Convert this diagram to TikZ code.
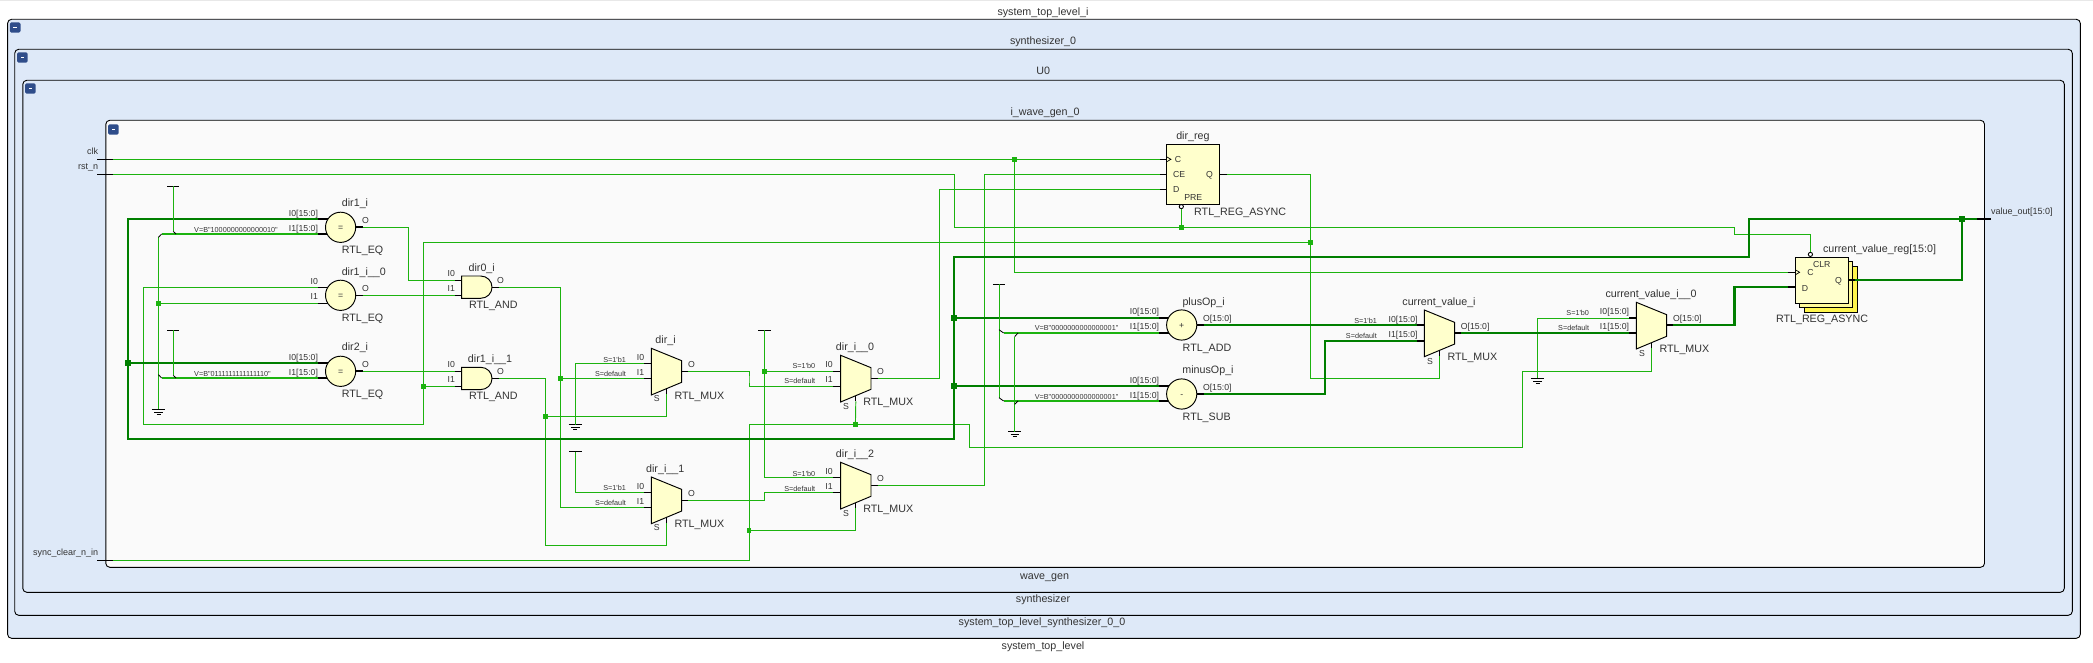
\documentclass[tikz,border=0pt]{standalone}
\usepackage{fontspec}
\setmainfont{Liberation Sans}
\newfontfamily\plainlib{Liberation Sans}
\definecolor{framefill}{HTML}{DEE9F8}
\definecolor{innerfill}{HTML}{FAFAFA}
\definecolor{thinwire}{HTML}{1CB30F}
\definecolor{buswire}{HTML}{007F00}
\definecolor{gatefill}{HTML}{FFFFCC}
\definecolor{iconblue}{HTML}{2F4D8A}
\tikzset{
  frameline/.style={draw=black,line width=0.9pt,rounded corners=4pt},
  txt/.style={inner sep=0pt,outer sep=0pt,text height=0.72em,text depth=0pt,text=black!80},
  big/.style={font=\plainlib\fontsize{10.7}{12}\selectfont},
  port/.style={font=\plainlib\fontsize{9}{10}\selectfont},
  pinl/.style={font=\plainlib\fontsize{8.7}{10}\selectfont},
  tiny/.style={font=\plainlib\fontsize{7.25}{9}\selectfont},
  wire/.style={draw=thinwire,line width=0.95pt,line join=miter},
  constwire/.style={draw=thinwire,line width=1.9pt},
  bus/.style={draw=buswire,line width=2.3pt,line join=miter},
  bitstub/.style={draw=black,line width=0.9pt},
  busstub/.style={draw=black,line width=2.3pt},
  gate/.style={draw=black,line width=0.95pt,fill=gatefill},
  chamfer/.style={draw=black,line width=0.8pt},
  jct/.style={rectangle,fill=thinwire,draw=none,minimum size=4.6pt,inner sep=0pt,outer sep=0pt},
  busjct/.style={rectangle,fill=buswire,draw=none,minimum size=5.8pt,inner sep=0pt,outer sep=0pt},
}
\newcommand{\lab}[6]{\node[txt,#5,anchor=#4] (#1) at (#2,#3) {#6};}
% compare/arith gate: id, cx, i0y, i1y, oy, symbol, stub style
\newcommand{\cmpg}[7]{%
  \coordinate (#1-i0) at (#2-22.6,#3);
  \coordinate (#1-i1) at (#2-22.6,#4);
  \coordinate (#1-o) at (#2+22,#5);
  \draw[#7] (#1-i0) -- (#2-11,#3);
  \draw[#7] (#1-i1) -- (#2-11,#4);
  \draw[#7] (#2+13,#5) -- (#1-o);
  \node[circle,gate,minimum size=30.2pt,inner sep=0pt,outer sep=0pt] (#1) at (#2,#5) {};
  \node[txt,pinl] (#1-sym) at (#2,#5) {#6};
}
% mux: id, left x, top y, i0y, i1y, oy, stub style
\newcommand{\muxg}[7]{%
  \coordinate (#1-i0) at (#2-7.3,#4);
  \coordinate (#1-i1) at (#2-7.3,#5);
  \coordinate (#1-o) at (#2+37.1,#6);
  \coordinate (#1-s) at (#2+15.2,#3+46);
  \draw[#7] (#1-i0) -- (#2,#4);
  \draw[#7] (#1-i1) -- (#2,#5);
  \draw[#7] (#2+30.4,#6) -- (#1-o);
  \draw[bitstub] (#2+15.2,#3+40.4) -- (#1-s);
  \draw[gate] (#2,#3) -- (#2+30.4,#3+12.4) -- (#2+30.4,#3+34) -- (#2,#3+46.7) -- cycle;
}
% and gate: id, left x, top y, i0y, i1y, oy
\newcommand{\andg}[6]{%
  \coordinate (#1-i0) at (#2-6.6,#4);
  \coordinate (#1-i1) at (#2-6.6,#5);
  \coordinate (#1-o) at (#2+37.1,#6);
  \draw[bitstub] (#1-i0) -- (#2,#4);
  \draw[bitstub] (#1-i1) -- (#2,#5);
  \draw[bitstub] (#2+30.4,#6) -- (#1-o);
  \draw[gate] (#2,#3) -- (#2+19,#3) .. controls (#2+25.5,#3) and (#2+30.4,#3+5) .. (#2+30.4,#3+11.15)
    .. controls (#2+30.4,#3+17.3) and (#2+25.5,#3+22.3) .. (#2+19,#3+22.3) -- (#2,#3+22.3) -- cycle;
}
\newcommand{\tiehi}[3]{%
  \coordinate (#1) at (#2,#3);
  \draw[bitstub] (#2-6.2,#3) -- (#2+6.2,#3);
}
\newcommand{\gndsym}[3]{%
  \coordinate (#1) at (#2,#3);
  \draw[bitstub] (#2-6.7,#3) -- (#2+6.7,#3);
  \draw[bitstub] (#2-4.2,#3+2.7) -- (#2+4.2,#3+2.7);
  \draw[bitstub] (#2-2,#3+5) -- (#2+2,#3+5);
}
\newcommand{\clockmark}[2]{\draw[bitstub,line width=0.7pt] (#1,#2-2.6) -- (#1+4.4,#2) -- (#1,#2+2.6);}
\newcommand{\iconbox}[2]{%
  \fill[iconblue,rounded corners=1.6pt] (#1,#2) rectangle (#1+10.7,#2+10.4);
  \fill[white] (#1+3.6,#2+4.4) rectangle (#1+7,#2+6);
}
\begin{document}
\begin{tikzpicture}[x=1pt,y=-1pt]
\useasboundingbox (0,0) rectangle (2093,663);
\fill[white] (0,0) rectangle (2093,663);
\fill[black!9] (0,0) rectangle (2093,1.3);
% nested frames
\draw[frameline,fill=framefill] (7.6,19.3) rectangle (2080.3,638.3);
\draw[frameline,fill=framefill] (14.7,49.3) rectangle (2072.3,615.3);
\draw[frameline,fill=framefill] (22.8,80.3) rectangle (2064.3,592.3);
\draw[frameline,fill=innerfill] (105.8,120.3) rectangle (1984.5,567.3);
\iconbox{9.8}{22.3}
\iconbox{17}{52.3}
\iconbox{25}{83.3}
\iconbox{108}{124.3}
\lab{t0}{1043}{11.5}{center}{big}{system\_top\_level\_i}
\lab{t1}{1043}{41.3}{center}{big}{synthesizer\_0}
\lab{t2}{1043.3}{71}{center}{big}{U0}
\lab{t3}{1045}{112.3}{center}{big}{i\_wave\_gen\_0}
\lab{b3}{1044.6}{575.7}{center}{big}{wave\_gen}
\lab{b2}{1043}{599.3}{center}{big}{synthesizer}
\lab{b1}{1042}{622.3}{center}{big}{system\_top\_level\_synthesizer\_0\_0}
\lab{b0}{1043}{645.7}{center}{big}{system\_top\_level}
% ports
\lab{lclk}{98.2}{151}{east}{port}{clk}
\lab{lrst}{98.2}{166}{east}{port}{rst\_n}
\lab{lsync}{98.2}{552}{east}{port}{sync\_clear\_n\_in}
\lab{lval}{1991}{211}{west}{port}{value\_out[15:0]}
\coordinate (clk) at (113,159.3);
\coordinate (rst) at (113,174.3);
\coordinate (sync) at (113,560.3);
\coordinate (valout) at (1977,218.7);
\draw[bitstub] (97,159.3) -- (clk);
\draw[bitstub] (97,174.3) -- (rst);
\draw[bitstub] (97,560.3) -- (sync);
\draw[busstub] (valout) -- (1991,218.7);
% comparators
\cmpg{eqa}{340.6}{219}{234}{227.3}{=}{busstub}
\lab{eqa-n}{355}{203.3}{center}{big}{dir1\_i}
\lab{eqa-t}{362.5}{250}{center}{big}{RTL\_EQ}
\lab{eqa-l0}{318}{212.7}{east}{pinl}{I0[15:0]}
\lab{eqa-l1}{318}{227.7}{east}{pinl}{I1[15:0]}
\lab{eqa-lo}{365.6}{219.7}{center}{pinl}{O}
\lab{eqa-v}{194.2}{229.3}{west}{tiny}{V=B"1000000000000010"}
\cmpg{eqb}{340.6}{287.3}{303.3}{295.3}{=}{bitstub}
\lab{eqb-n}{363.8}{271.7}{center}{big}{dir1\_i\_\_0}
\lab{eqb-t}{362.5}{318.3}{center}{big}{RTL\_EQ}
\lab{eqb-l0}{318}{280.7}{east}{pinl}{I0}
\lab{eqb-l1}{318}{295.7}{east}{pinl}{I1}
\lab{eqb-lo}{365.6}{287.7}{center}{pinl}{O}
\cmpg{eqc}{340.6}{363}{378}{371.3}{=}{busstub}
\lab{eqc-n}{355}{347.3}{center}{big}{dir2\_i}
\lab{eqc-t}{362.5}{394.3}{center}{big}{RTL\_EQ}
\lab{eqc-l0}{318}{356.7}{east}{pinl}{I0[15:0]}
\lab{eqc-l1}{318}{371.7}{east}{pinl}{I1[15:0]}
\lab{eqc-lo}{365.6}{363.7}{center}{pinl}{O}
\lab{eqc-v}{194.2}{373.3}{west}{tiny}{V=B"0111111111111110"}
% and gates
\andg{anda}{461.6}{276}{280.3}{295.3}{287.3}
\lab{anda-n}{481.7}{268.3}{center}{big}{dir0\_i}
\lab{anda-t}{493.3}{305}{center}{big}{RTL\_AND}
\lab{anda-l0}{451.3}{272.7}{center}{pinl}{I0}
\lab{anda-l1}{451.3}{287.7}{center}{pinl}{I1}
\lab{anda-lo}{500.4}{279.7}{center}{pinl}{O}
\andg{andb}{461.6}{367.3}{371.3}{386.3}{378.3}
\lab{andb-n}{490}{359.3}{center}{big}{dir1\_i\_\_1}
\lab{andb-t}{493.3}{396}{center}{big}{RTL\_AND}
\lab{andb-l0}{451.3}{363.7}{center}{pinl}{I0}
\lab{andb-l1}{451.3}{378.7}{center}{pinl}{I1}
\lab{andb-lo}{500.4}{370.7}{center}{pinl}{O}
% direction muxes
\muxg{mxa}{651.3}{348.3}{363.3}{378.3}{371.3}{bitstub}
\lab{mxa-n}{665.6}{340.3}{center}{big}{dir\_i}
\lab{mxa-t}{674.5}{395.7}{west}{big}{RTL\_MUX}
\lab{mxa-l0}{640.6}{356.7}{center}{pinl}{I0}
\lab{mxa-l1}{640.6}{371.7}{center}{pinl}{I1}
\lab{mxa-lo}{691.5}{363.7}{center}{pinl}{O}
\lab{mxa-ls}{656.7}{398.3}{center}{pinl}{S}
\lab{mxa-s0}{625.9}{358.7}{east}{tiny}{S=1'b1}
\lab{mxa-s1}{625.9}{373.3}{east}{tiny}{S=default}
\muxg{mxb}{651.3}{477}{492.3}{507.3}{500.3}{bitstub}
\lab{mxb-n}{665.2}{469.3}{center}{big}{dir\_i\_\_1}
\lab{mxb-t}{674.5}{524.3}{west}{big}{RTL\_MUX}
\lab{mxb-l0}{640.6}{485.7}{center}{pinl}{I0}
\lab{mxb-l1}{640.6}{501}{center}{pinl}{I1}
\lab{mxb-lo}{691.5}{492.7}{center}{pinl}{O}
\lab{mxb-ls}{656.7}{527.3}{center}{pinl}{S}
\lab{mxb-s0}{625.9}{487.3}{east}{tiny}{S=1'b1}
\lab{mxb-s1}{625.9}{502.3}{east}{tiny}{S=default}
\muxg{mxc}{840.6}{355.3}{371.3}{386.3}{378.3}{bitstub}
\lab{mxc-n}{855}{347}{center}{big}{dir\_i\_\_0}
\lab{mxc-t}{863.4}{402}{west}{big}{RTL\_MUX}
\lab{mxc-l0}{829}{364}{center}{pinl}{I0}
\lab{mxc-l1}{829}{379}{center}{pinl}{I1}
\lab{mxc-lo}{880.4}{370.7}{center}{pinl}{O}
\lab{mxc-ls}{846}{405.7}{center}{pinl}{S}
\lab{mxc-s0}{815.2}{365.3}{east}{tiny}{S=1'b0}
\lab{mxc-s1}{815.2}{380.3}{east}{tiny}{S=default}
\muxg{mxd}{840.6}{462.3}{477.3}{492.3}{485.3}{bitstub}
\lab{mxd-n}{855}{454}{center}{big}{dir\_i\_\_2}
\lab{mxd-t}{863.4}{509}{west}{big}{RTL\_MUX}
\lab{mxd-l0}{829}{471}{center}{pinl}{I0}
\lab{mxd-l1}{829}{486}{center}{pinl}{I1}
\lab{mxd-lo}{880.4}{477.7}{center}{pinl}{O}
\lab{mxd-ls}{846}{512.7}{center}{pinl}{S}
\lab{mxd-s0}{815.2}{472.7}{east}{tiny}{S=1'b0}
\lab{mxd-s1}{815.2}{487.7}{east}{tiny}{S=default}
% dir_reg
\node[rectangle,gate,minimum width=53.1pt,minimum height=60pt,inner sep=0pt,outer sep=0pt] (dirreg) at (1193.05,174.3) {};
\coordinate (dirreg-c) at (1159.8,159.3);
\coordinate (dirreg-ce) at (1159.8,174.3);
\coordinate (dirreg-d) at (1159.8,189.3);
\coordinate (dirreg-q) at (1226.8,174.3);
\draw[bitstub] (dirreg-c) -- (1166.5,159.3);
\draw[bitstub] (dirreg-ce) -- (1166.5,174.3);
\draw[bitstub] (dirreg-d) -- (1166.5,189.3);
\draw[bitstub] (1219.6,174.3) -- (dirreg-q);
\clockmark{1166.5}{159.3}
\node[circle,draw=black,fill=white,line width=0.9pt,minimum size=4.2pt,inner sep=0pt,outer sep=0pt] (dirreg-pre) at (1181.3,206.6) {};
\lab{dirreg-n}{1192.9}{135.7}{center}{big}{dir\_reg}
\lab{dirreg-t}{1194.2}{212}{west}{big}{RTL\_REG\_ASYNC}
\lab{dirreg-lc}{1178}{159}{center}{pinl}{C}
\lab{dirreg-lce}{1173}{173.7}{west}{pinl}{CE}
\lab{dirreg-ld}{1173}{188.7}{west}{pinl}{D}
\lab{dirreg-lq}{1209.4}{173.7}{center}{pinl}{Q}
\lab{dirreg-lp}{1184.4}{196.7}{west}{pinl}{PRE}
% adder and subtractor
\cmpg{plus}{1181.7}{318}{333}{325}{+}{busstub}
\lab{plus-n}{1203.6}{301.7}{center}{big}{plusOp\_i}
\lab{plus-t}{1207}{348.3}{center}{big}{RTL\_ADD}
\lab{plus-l0}{1159}{311}{east}{pinl}{I0[15:0]}
\lab{plus-l1}{1159}{326}{east}{pinl}{I1[15:0]}
\lab{plus-lo}{1203}{317.7}{west}{pinl}{O[15:0]}
\lab{plus-v}{1034.8}{327.3}{west}{tiny}{V=B"0000000000000001"}
\cmpg{minus}{1181.7}{386}{401}{394}{-}{busstub}
\lab{minus-n}{1208}{370.3}{center}{big}{minusOp\_i}
\lab{minus-t}{1206.7}{417}{center}{big}{RTL\_SUB}
\lab{minus-l0}{1159}{380}{east}{pinl}{I0[15:0]}
\lab{minus-l1}{1159}{395}{east}{pinl}{I1[15:0]}
\lab{minus-lo}{1203}{387}{west}{pinl}{O[15:0]}
\lab{minus-v}{1034.8}{396.3}{west}{tiny}{V=B"0000000000000001"}
% value muxes
\muxg{cva}{1424.3}{310}{325}{341}{333}{busstub}
\lab{cva-n}{1439}{302.3}{center}{big}{current\_value\_i}
\lab{cva-t}{1447.5}{357}{west}{big}{RTL\_MUX}
\lab{cva-l0}{1417.6}{319}{east}{pinl}{I0[15:0]}
\lab{cva-l1}{1417.6}{334}{east}{pinl}{I1[15:0]}
\lab{cva-lo}{1460.9}{326}{west}{pinl}{O[15:0]}
\lab{cva-ls}{1430}{360.7}{center}{pinl}{S}
\lab{cva-s0}{1376.8}{320.3}{east}{tiny}{S=1'b1}
\lab{cva-s1}{1376.8}{335.3}{east}{tiny}{S=default}
\muxg{cvb}{1636.3}{302.3}{318}{333}{325}{busstub}
\lab{cvb-n}{1651}{294.3}{center}{big}{current\_value\_i\_\_0}
\lab{cvb-t}{1659.5}{349}{west}{big}{RTL\_MUX}
\lab{cvb-l0}{1629}{311}{east}{pinl}{I0[15:0]}
\lab{cvb-l1}{1629}{326}{east}{pinl}{I1[15:0]}
\lab{cvb-lo}{1673}{318}{west}{pinl}{O[15:0]}
\lab{cvb-ls}{1642}{352.7}{center}{pinl}{S}
\lab{cvb-s0}{1589}{312.3}{east}{tiny}{S=1'b0}
\lab{cvb-s1}{1589}{327.3}{east}{tiny}{S=default}
% current_value_reg
\draw[draw=black,line width=0.95pt,fill=yellow!70!white] (1804.2,266.3) rectangle (1857.4,312.3);
\draw[draw=black,line width=0.95pt,fill=yellow!40!white] (1799.7,261.8) rectangle (1852.9,307.8);
\node[rectangle,gate,minimum width=53.2pt,minimum height=46pt,inner sep=0pt,outer sep=0pt] (cvreg) at (1821.8,280.3) {};
\coordinate (cvreg-c) at (1788,272.3);
\coordinate (cvreg-d) at (1788,286.7);
\coordinate (cvreg-q) at (1855,280);
\draw[bitstub] (cvreg-c) -- (1795.2,272.3);
\draw[busstub] (cvreg-d) -- (1795.2,286.7);
\draw[busstub] (1848.4,280) -- (cvreg-q);
\clockmark{1795.2}{272.3}
\node[circle,draw=black,fill=white,line width=0.9pt,minimum size=4.2pt,inner sep=0pt,outer sep=0pt] (cvreg-clr) at (1810.4,254.4) {};
\lab{cvreg-n}{1823}{249.3}{west}{big}{current\_value\_reg[15:0]}
\lab{cvreg-t}{1822}{319}{center}{big}{RTL\_REG\_ASYNC}
\lab{cvreg-lclr}{1813}{263.7}{west}{pinl}{CLR}
\lab{cvreg-lc}{1810.4}{271.7}{center}{pinl}{C}
\lab{cvreg-ld}{1805}{287.7}{center}{pinl}{D}
\lab{cvreg-lq}{1838.5}{280}{center}{pinl}{Q}
% constants
\tiehi{tia}{173.2}{186.3}
\tiehi{tib}{173.2}{330.3}
\tiehi{tic}{575.4}{451.7}
\tiehi{tid}{764.3}{330.3}
\tiehi{tie}{999}{284}
\gndsym{gna}{158.5}{409.3}
\gndsym{gnb}{575.4}{424.7}
\gndsym{gnc}{1014.7}{431.7}
\gndsym{gnd}{1537.6}{378.3}
% junctions
\node[jct] (jclk) at (1014.3,159.3) {};
\node[jct] (jpre) at (1181.3,227.3) {};
\node[jct] (jsyncd) at (749,530.3) {};
\node[jct] (jsyncc) at (855.4,424.3) {};
\node[jct] (jq) at (1310.3,242.3) {};
\node[jct] (jgna) at (158.5,303.3) {};
\node[jct] (jeb) at (423.2,386.3) {};
\node[jct] (jand) at (560.3,378.3) {};
\node[jct] (jandb) at (545.5,416.3) {};
\node[jct] (jtid) at (764.3,371.3) {};
\node[busjct] (jbc) at (128,363) {};
\node[busjct] (jbp) at (954,318) {};
\node[busjct] (jbm) at (954,386) {};
\node[busjct] (jbo) at (1961.7,218.7) {};
% route corners
\coordinate (busa) at (128,438.7);
\coordinate (busb) at (954,256.7);
\coordinate (busc) at (1748.8,218.7);
\coordinate (rsta) at (954.5,227.3);
\coordinate (rstb) at (1734.5,227.3);
\coordinate (rstc) at (1810.4,234.3);
\coordinate (synca) at (749,424.3);
\coordinate (syncb) at (969.6,447.3);
\coordinate (syncc) at (1522.5,371.3);
\coordinate (eba) at (143.3,424.3);
\coordinate (ebb) at (423.2,242.3);
\coordinate (eaa) at (408.5,250);
\coordinate (anda-x) at (560.3,400);
\coordinate (andb-x) at (545.5,545.3);
\coordinate (mxa-x) at (749,380);
\coordinate (mxb-x) at (764.3,495);
\coordinate (mxc-x) at (939.7,300);
\coordinate (mxd-x) at (984.4,300);
\coordinate (qa) at (1310.3,378.3);
\coordinate (minus-x) at (1325,360);
\coordinate (cvb-x) at (1734.5,300);
% thin wires
\draw[wire] (clk) -- (dirreg-c);
\draw[wire] (jclk) |- (cvreg-c);
\draw[wire] (rst) -| (rsta) -- (rstb) |- (rstc) -- (cvreg-clr);
\draw[wire] (jpre) -- (dirreg-pre);
\draw[wire] (sync) -| (synca) -| (syncb) -| (syncc) -| (cvb-s);
\draw[wire] (jsyncd) -| (mxd-s);
\draw[wire] (jsyncc) -- (mxc-s);
\draw[wire] (eqa-o) -| (eaa) |- (anda-i0);
\draw[wire] (eqb-o) -- (anda-i1);
\draw[wire] (eqc-o) -- (andb-i0);
\draw[wire] (eqb-i0) -| (eba) -| (ebb) -- (jq);
\draw[wire] (jeb) -- (andb-i1);
\draw[wire] (anda-o) -| (anda-x) |- (mxb-i1);
\draw[wire] (jand) -- (mxa-i1);
\draw[wire] (andb-o) -| (andb-x) -| (mxb-s);
\draw[wire] (jandb) -| (mxa-s);
\draw[wire] (mxa-i0) -| (gnb);
\draw[wire] (tic) |- (mxb-i0);
\draw[wire] (mxa-o) -| (mxa-x) |- (mxc-i1);
\draw[wire] (mxb-o) -| (mxb-x) |- (mxd-i1);
\draw[wire] (tid) |- (mxd-i0);
\draw[wire] (jtid) -- (mxc-i0);
\draw[wire] (mxc-o) -| (mxc-x) |- (dirreg-d);
\draw[wire] (mxd-o) -| (mxd-x) |- (dirreg-ce);
\draw[wire] (dirreg-q) -| (qa) -| (cva-s);
\draw[wire] (cvb-i0) -| (gnd);
% buses
\draw[bus] (eqa-i0) -| (busa) -| (busb) -| (busc) -- (valout);
\draw[bus] (jbc) -- (eqc-i0);
\draw[bus] (jbp) -- (plus-i0);
\draw[bus] (jbm) -- (minus-i0);
\draw[bus] (jbo) |- (cvreg-q);
\draw[bus] (plus-o) -- (cva-i0);
\draw[bus] (minus-o) -| (minus-x) |- (cva-i1);
\draw[bus] (cva-o) -- (cvb-i1);
\draw[bus] (cvb-o) -| (cvb-x) |- (cvreg-d);
% constant feeds
\coordinate (ca1) at (161.6,234);
\coordinate (ca2) at (176,234);
\coordinate (cb1) at (161.6,378);
\coordinate (cb2) at (176,378);
\coordinate (cp1) at (1003.6,333);
\coordinate (cp2) at (1018,333);
\coordinate (cm1) at (1003.6,401);
\coordinate (cm2) at (1018,401);
\coordinate (gatop) at (158.5,237.3);
\coordinate (gabot) at (158.5,374.7);
\coordinate (gctop) at (1014.7,336.6);
\coordinate (gcbot) at (1014.7,404.3);
\coordinate (tiaend) at (173.2,231.3);
\coordinate (tibend) at (173.2,375.3);
\coordinate (tieend) at (999,397.7);
\coordinate (tiemid) at (999,329.7);
\draw[wire] (tia) -- (tiaend);
\draw[wire] (tib) -- (tibend);
\draw[wire] (tie) -- (tieend);
\draw[wire] (gatop) -- (gna);
\draw[wire] (gctop) -- (gnc);
\draw[wire] (jgna) -- (eqb-i1);
\draw[constwire] (ca1) -- (eqa-i1);
\draw[constwire] (cb1) -- (eqc-i1);
\draw[constwire] (cp1) -- (plus-i1);
\draw[constwire] (cm1) -- (minus-i1);
\draw[chamfer] (tiaend) -- (ca2);
\draw[chamfer] (tibend) -- (cb2);
\draw[chamfer] (gatop) -- (ca1);
\draw[chamfer] (gabot) -- (cb1);
\draw[chamfer] (tiemid) -- (cp1);
\draw[chamfer] (tieend) -- (cm1);
\draw[chamfer] (gctop) -- (cp2);
\draw[chamfer] (gcbot) -- (cm2);
\end{tikzpicture}
\end{document}
